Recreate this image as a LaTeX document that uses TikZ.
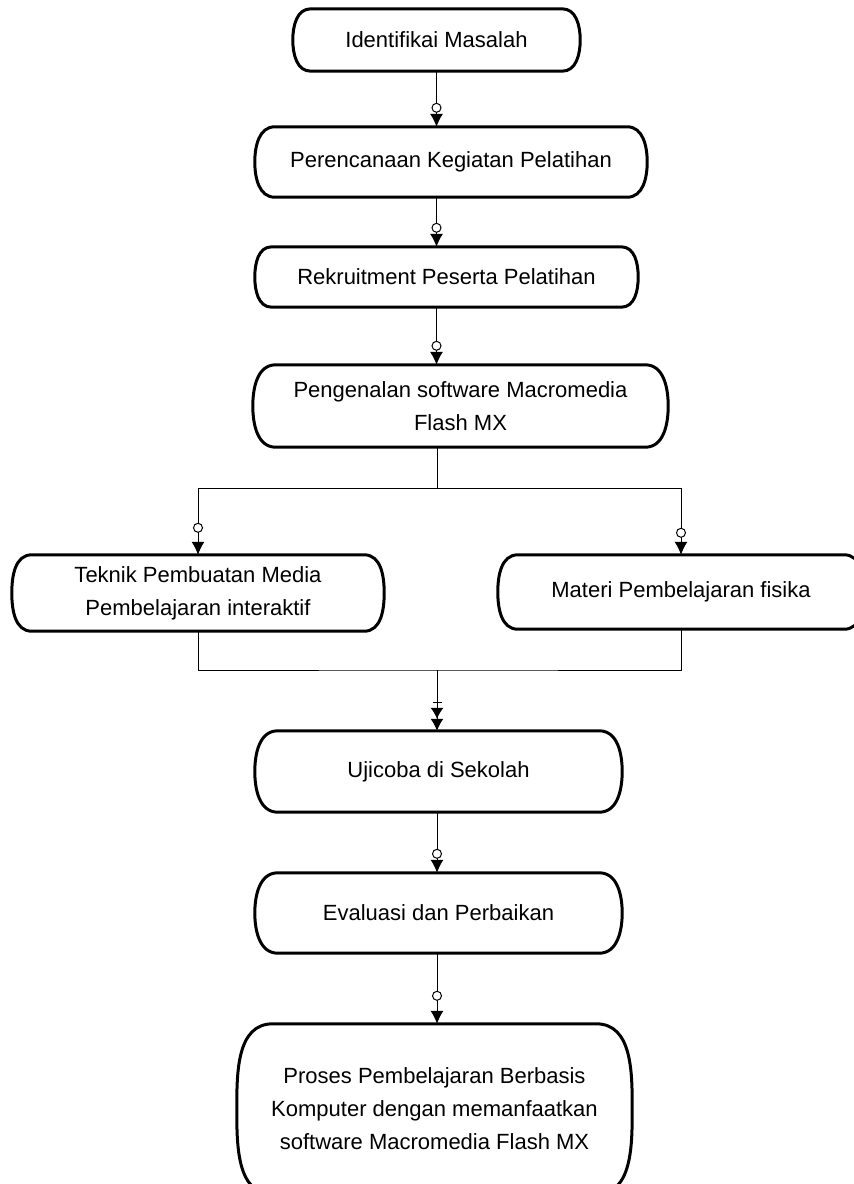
\documentclass[tikz,border=0pt]{standalone}
\usepackage{fontspec}
\setmainfont{Liberation Sans}
\usepackage{tikz}
\usetikzlibrary{arrows.meta}

\tikzset{
  stepbox/.style={inner sep=0pt, align=center, font=\fontsize{22}{33}\selectfont},
  flow/.style={line width=1pt, -{Circle[length=10pt,fill=white,sep=#1] Latex[length=13pt,width=13pt]}},
  flow/.default=1pt,
  merge/.style={line width=1pt, -{Bar[width=9pt,sep=5pt] Latex[length=11pt,width=13pt] Latex[length=12pt,width=13pt]}},
  plain/.style={line width=1pt}
}

% outline with curved sides round a node
\newcommand{\bulgeoutline}[2]{%
  \draw[line width=3pt] ([xshift=#2]#1.north west) -- ([xshift=-#2]#1.north east)
    to[out=0,in=90] (#1.east) to[out=-90,in=0] ([xshift=-#2]#1.south east)
    -- ([xshift=#2]#1.south west) to[out=180,in=-90] (#1.west)
    to[out=90,in=180] cycle;}

\begin{document}
\begin{tikzpicture}[x=1pt,y=-1pt]
\fill[white] (0,0) rectangle (854,1184);
\useasboundingbox (0,0) rectangle (854,1184);
\clip (0,0) rectangle (854,1184);

\node[stepbox, minimum width=287pt, minimum height=62pt] (idm) at (436.5,40) {Identifikai Masalah};
\node[stepbox, minimum width=392pt, minimum height=70pt] (pkp) at (451,162) {Perencanaan Kegiatan Pelatihan};
\node[stepbox, minimum width=383pt, minimum height=60pt] (rpp) at (446.5,277) {Rekruitment Peserta Pelatihan};
\node[stepbox, minimum width=415pt, minimum height=82pt] (psm) at (460.5,406) {Pengenalan software Macromedia\\Flash MX};
\node[stepbox, minimum width=372pt, minimum height=76pt] (tpm) at (198,593) {Teknik Pembuatan Media\\Pembelajaran interaktif};
\node[stepbox, minimum width=366pt, minimum height=74pt] (mpf) at (681,592) {Materi Pembelajaran fisika};
\node[stepbox, minimum width=367pt, minimum height=81pt] (uds) at (438.5,771.5) {Ujicoba di Sekolah};
\node[stepbox, minimum width=367pt, minimum height=80pt] (edp) at (438.5,913) {Evaluasi dan Perbaikan};
\node[stepbox, minimum width=395pt, minimum height=170pt] (pbk) at (434.5,1109) {Proses Pembelajaran Berbasis\\Komputer dengan memanfaatkan\\software Macromedia Flash MX};

\foreach \n/\b in {idm/18pt, pkp/20pt, rpp/17pt, psm/23pt, tpm/20pt, mpf/20pt, uds/23pt, edp/23pt, pbk/36pt}
  {\bulgeoutline{\n}{\b}}

\coordinate (split) at (437,488);
\coordinate (join) at (437,670);

\draw[flow] (idm.south) -- (idm.south |- pkp.north);
\draw[flow] (idm.south |- pkp.south) -- (idm.south |- rpp.north);
\draw[flow] (idm.south |- rpp.south) -- (idm.south |- psm.north);
\draw[plain] (split |- psm.south) -- (split);
\draw[flow=9pt] (split) -| (tpm.north);
\draw[flow=4pt] (split) -| (mpf.north);
\draw[plain] (tpm.south) |- (join) -| (mpf.south);
\draw[merge] (join) -- (join |- uds.north);
\draw[flow] (join |- uds.south) -- (join |- edp.north);
\draw[flow=10pt] (join |- edp.south) -- (join |- pbk.north);
\end{tikzpicture}
\end{document}
